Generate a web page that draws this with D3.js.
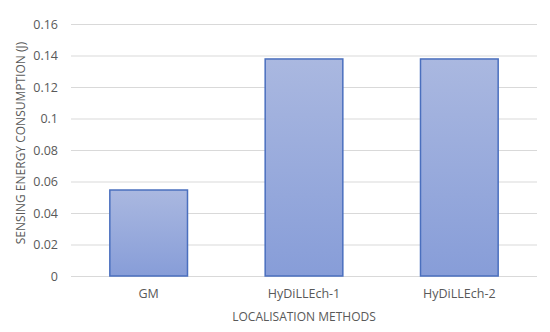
<!DOCTYPE html>
<meta charset="utf-8">
<svg width="550" height="332"></svg>
<style>
    body { margin: 0; background: #fff; }
    .tick text { fill: #595959; font-size: 12.5px; }
    .lbl { fill: #595959; font-family: "Open Sans", sans-serif; }
</style>
<script src="https://d3js.org/d3.v7.min.js"></script>
<script>
// values
var methods = ["GM", "HyDiLLEch-1", "HyDiLLEch-2"];
var energy = [0.0546, 0.1378, 0.1378];
var yTicks = [0, 0.02, 0.04, 0.06, 0.08, 0.1, 0.12, 0.14, 0.16];

var svg = d3.select("svg"),
    margin = {top: 24, right: 13, bottom: 56, left: 71},
    width = +svg.attr("width") - margin.left - margin.right,
    height = +svg.attr("height") - margin.top - margin.bottom,
    g = svg.append("g").attr("transform", "translate(" + margin.left + "," + margin.top + ")");

svg.style("font-family", "'Open Sans', sans-serif");

var grad = svg.append("defs").append("linearGradient")
    .attr("id", "barGrad")
    .attr("x1", 0).attr("y1", 0).attr("x2", 0).attr("y2", 1);
grad.append("stop").attr("offset", "0%").attr("stop-color", "#aab8e0");
grad.append("stop").attr("offset", "100%").attr("stop-color", "#879dd8");

var x = d3.scaleBand()
    .domain(methods)
    .range([0, width])
    .paddingInner(0.5)
    .paddingOuter(0.25);

var y = d3.scaleLinear()
    .domain([0, 0.16])
    .range([height, 0]);

// gridlines + y labels
var yAxis = g.append("g")
    .call(d3.axisLeft(y).tickValues(yTicks).tickSize(-width).tickPadding(13)
        .tickFormat(function (d) { return String(+d.toFixed(2)); }));
yAxis.select(".domain").remove();
yAxis.selectAll(".tick line").attr("stroke", "#d9d9d9").attr("stroke-width", 1);
yAxis.selectAll(".tick text").style("font-family", "'Open Sans', sans-serif");

g.selectAll(".bar")
    .data(energy)
    .enter().append("rect")
    .attr("class", "bar")
    .attr("x", function (d, i) { return x(methods[i]); })
    .attr("y", function (d) { return y(d); })
    .attr("width", x.bandwidth())
    .attr("height", function (d) { return height - y(d); })
    .attr("fill", "url(#barGrad)")
    .attr("stroke", "#4a6fbe")
    .attr("stroke-width", 1.5);

// x labels
var xAxis = g.append("g")
    .attr("transform", "translate(0," + height + ")")
    .call(d3.axisBottom(x).tickSize(0).tickPadding(13));
xAxis.select(".domain").remove();
xAxis.selectAll(".tick text").style("font-family", "'Open Sans', sans-serif");

g.append("text")
    .attr("class", "lbl")
    .attr("x", width / 2)
    .attr("y", height + 45)
    .attr("text-anchor", "middle")
    .style("font-size", "12px")
    .text("LOCALISATION METHODS");

svg.append("text")
    .attr("class", "lbl")
    .attr("transform", "translate(25," + 143 + ") rotate(-90)")
    .attr("text-anchor", "middle")
    .style("font-size", "12px")
    .text("SENSING ENERGY CONSUMPTION (J)");
</script>
